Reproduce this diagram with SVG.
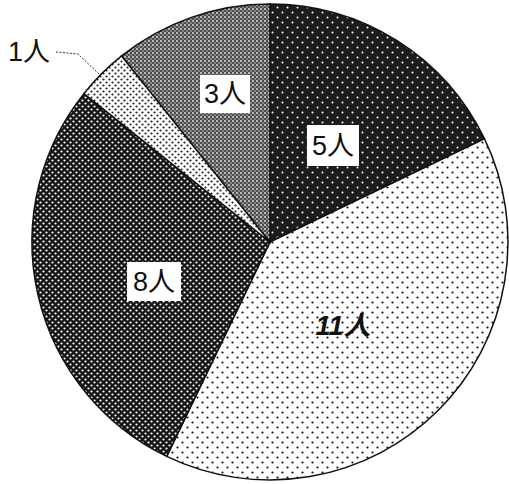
<svg xmlns="http://www.w3.org/2000/svg" width="509" height="484" viewBox="0 0 509 484">
  <style>
    .slice { stroke: #111; stroke-width: 1.5; }
    .box { fill: #fff; }
    .lbl { font-family: "Liberation Sans", "Noto Sans CJK JP", sans-serif; font-size: 27px; fill: #111; text-anchor: middle; dominant-baseline: central; }
    .lead { fill: none; stroke: #333; stroke-width: 1; stroke-dasharray: 2 1.5; }
  </style>
  <defs>
    <pattern id="p5" width="10" height="10" patternUnits="userSpaceOnUse">
      <rect width="10" height="10" fill="#1c1c1c"/>
      <circle cx="2.5" cy="2.5" r="1" fill="#fff"/>
      <circle cx="7.5" cy="7.5" r="1" fill="#fff"/>
    </pattern>
    <pattern id="p11" width="10" height="10" patternUnits="userSpaceOnUse">
      <rect width="10" height="10" fill="#fff"/>
      <circle cx="2.5" cy="2.5" r="1.1" fill="#111"/>
      <circle cx="7.5" cy="7.5" r="1.1" fill="#111"/>
    </pattern>
    <pattern id="p8" width="6" height="6" patternUnits="userSpaceOnUse">
      <rect width="6" height="6" fill="#161616"/>
      <circle cx="1.5" cy="1.5" r="1.1" fill="#fff"/>
      <circle cx="4.5" cy="4.5" r="1.1" fill="#fff"/>
    </pattern>
    <pattern id="p1" width="6" height="6" patternUnits="userSpaceOnUse">
      <rect width="6" height="6" fill="#fff"/>
      <circle cx="1.5" cy="1.5" r="1.1" fill="#222"/>
      <circle cx="4.5" cy="4.5" r="1.1" fill="#222"/>
    </pattern>
    <pattern id="p3" width="4" height="4" patternUnits="userSpaceOnUse">
      <rect width="4" height="4" fill="#4c4c4c"/>
      <circle cx="1" cy="1" r="0.9" fill="#eee"/>
      <circle cx="3" cy="3" r="0.8" fill="#ccc"/>
    </pattern>
  </defs>
  <rect width="509" height="484" fill="#fff"/>

  <g id="slice-5">
    <path class="slice" fill="url(#p5)" d="M270,242 L270,4 A238,238 0 0 1 484.4,138.7 Z"/>
    <rect class="box" x="307" y="125" width="52" height="41"/>
    <text class="lbl" x="333" y="146">5人</text>
  </g>
  <g id="slice-11">
    <path class="slice" fill="url(#p11)" d="M270,242 L484.4,138.7 A238,238 0 0 1 166.7,456.4 Z"/>
    <text class="lbl" x="343" y="326" font-style="italic" font-weight="bold" font-size="29">11人</text>
  </g>
  <g id="slice-8">
    <path class="slice" fill="url(#p8)" d="M270,242 L166.7,456.4 A238,238 0 0 1 83.9,93.6 Z"/>
    <rect class="box" x="127" y="262" width="54" height="39"/>
    <text class="lbl" x="154" y="282">8人</text>
  </g>
  <g id="slice-1">
    <path class="slice" fill="url(#p1)" d="M270,242 L83.9,93.6 A238,238 0 0 1 121.6,55.9 Z"/>
    <text class="lbl" x="29" y="52" font-size="24">1人</text>
  </g>
  <g id="slice-3">
    <path class="slice" fill="url(#p3)" d="M270,242 L121.6,55.9 A238,238 0 0 1 270,4 Z"/>
    <rect class="box" x="200" y="75" width="50" height="38"/>
    <text class="lbl" x="225" y="94">3人</text>
  </g>

  <g id="connectors">
    <path class="lead" d="M56,52 L78,54 L100,75"/>
  </g>
</svg>
